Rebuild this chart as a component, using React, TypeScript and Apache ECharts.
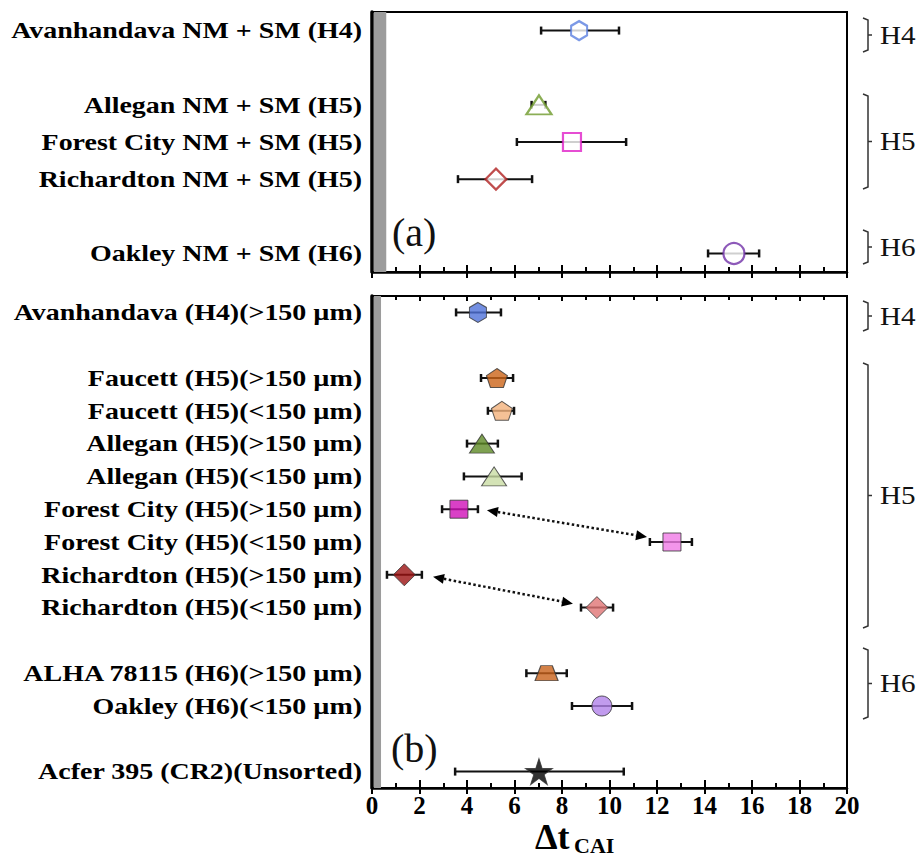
import React, { useEffect, useRef } from 'react';
import * as echarts from 'echarts';

// ---------- data ----------
const topLabels = [
  'Avanhandava NM + SM (H4)',
  '',
  'Allegan NM + SM (H5)',
  'Forest City NM + SM (H5)',
  'Richardton NM + SM (H5)',
  '',
  'Oakley NM + SM (H6)',
];
const topMean = [8.72, null, 7.03, 8.42, 5.22, null, 15.24];
const topLow = [7.12, null, 6.72, 6.1, 3.62, null, 14.15];
const topHigh = [10.4, null, 7.3, 10.7, 6.74, null, 16.3];

const bottomLabels = [
  'Avanhandava (H4)(>150 µm)',
  '',
  'Faucett (H5)(>150 µm)',
  'Faucett (H5)(<150 µm)',
  'Allegan (H5)(>150 µm)',
  'Allegan (H5)(<150 µm)',
  'Forest City (H5)(>150 µm)',
  'Forest City (H5)(<150 µm)',
  'Richardton (H5)(>150 µm)',
  'Richardton (H5)(<150 µm)',
  '',
  'ALHA 78115 (H6)(>150 µm)',
  'Oakley (H6)(<150 µm)',
  '',
  'Acfer 395 (CR2)(Unsorted)',
];
const bottomMean = [4.46, null, 5.26, 5.47, 4.63, 5.14, 3.66, 12.63, 1.36, 9.47, null, 7.35, 9.68, null, 7.03];
const bottomLow = [3.54, null, 4.59, 4.88, 4.0, 3.87, 2.95, 11.7, 0.63, 8.8, null, 6.5, 8.42, null, 3.5];
const bottomHigh = [5.43, null, 5.94, 5.98, 5.3, 6.3, 4.46, 13.47, 2.1, 10.15, null, 8.2, 10.95, null, 10.6];

// dotted double arrows: [x1, row1, x2, row2, rowOffset1, rowOffset2]
const arrows = [
  [4.84, 6, 11.58, 7, 0.03, -0.15],
  [2.57, 8, 8.46, 9, 0.06, -0.12],
];

const xTicks = [0, 2, 4, 6, 8, 10, 12, 14, 16, 18, 20];
const grayBandTop = 0.6;
const grayBandBottom = 0.38;

// ---------- styles ----------
const FONT = 'Liberation Serif';
const HEX = 'path://M50,0 L93.3,25 L93.3,75 L50,100 L6.7,75 L6.7,25 Z';
const PENT = 'path://M50,0 L100,38 L81,100 L19,100 L0,38 Z';
const TRAP = 'path://M25,0 L75,0 L100,100 L0,100 Z';
const STAR = 'path://M50,0 L61.8,35.4 L100,35.4 L69.1,57.3 L80.9,92.7 L50,70.8 L19.1,92.7 L30.9,57.3 L0,35.4 L38.2,35.4 Z';

const topSymbols = [HEX, null, 'triangle', 'rect', 'diamond', null, 'circle'];
const topSizes: any[] = [[16, 19], null, [25, 19], [18, 18], [21, 21], null, [21, 21]];
const topColors = ['#5b7fe0', null, '#6e9a2a', '#e020c8', '#b02020', null, '#7030a8'];

const bottomSymbols = [HEX, null, PENT, PENT, 'triangle', 'triangle', 'rect', 'rect', 'diamond', 'diamond', null, TRAP, 'circle', null, STAR];
const bottomSizes: any[] = [[17, 20], null, [21, 19], [21, 19], [25, 19], [25, 19], [18, 18], [18, 18], [22, 22], [22, 22], null, [23, 15], [20, 20], null, [27, 26]];
const bottomColors = ['#4f72d9', null, '#cc6418', '#f2b27c', '#5e8a26', '#c9dca4', '#d010b8', '#f07ae6', '#9b1111', '#e07474', null, '#c8621a', '#b282ea', null, '#000000'];

function errorBarRender(params: any, api: any) {
  const lo = api.coord([api.value(0), api.value(2)]);
  const hi = api.coord([api.value(1), api.value(2)]);
  const cap = 4;
  const style = { stroke: '#111', lineWidth: 2 };
  const capStyle = { stroke: '#111', lineWidth: 2.5 };
  return {
    type: 'group',
    children: [
      { type: 'line', shape: { x1: lo[0], y1: lo[1], x2: hi[0], y2: hi[1] }, style },
      { type: 'line', shape: { x1: lo[0], y1: lo[1] - cap, x2: lo[0], y2: lo[1] + cap }, style: capStyle },
      { type: 'line', shape: { x1: hi[0], y1: hi[1] - cap, x2: hi[0], y2: hi[1] + cap }, style: capStyle },
    ],
  };
}

function arrowRender(params: any, api: any) {
  const band = Math.abs(api.size([0, 1])[1]);
  const a = api.coord([api.value(0), api.value(1)]);
  const b = api.coord([api.value(2), api.value(3)]);
  const ax = a[0];
  const ay = a[1] + api.value(4) * band;
  const bx = b[0];
  const by = b[1] + api.value(5) * band;
  const dx = bx - ax;
  const dy = by - ay;
  const len = Math.sqrt(dx * dx + dy * dy);
  const ux = dx / len;
  const uy = dy / len;
  const nx = -uy;
  const ny = ux;
  const L = 11;
  const W = 5;
  const headA = [
    [ax, ay],
    [ax + ux * L + nx * W, ay + uy * L + ny * W],
    [ax + ux * L - nx * W, ay + uy * L - ny * W],
  ];
  const headB = [
    [bx, by],
    [bx - ux * L + nx * W, by - uy * L + ny * W],
    [bx - ux * L - nx * W, by - uy * L - ny * W],
  ];
  return {
    type: 'group',
    children: [
      {
        type: 'line',
        shape: { x1: ax + ux * L, y1: ay + uy * L, x2: bx - ux * L, y2: by - uy * L },
        style: { stroke: '#111', lineWidth: 2.5, lineDash: [2.5, 2.5] },
      },
      { type: 'polygon', shape: { points: headA }, style: { fill: '#000' } },
      { type: 'polygon', shape: { points: headB }, style: { fill: '#000' } },
    ],
  };
}

function buildScatter(mean: any[], symbols: any[], sizes: any[], colors: any[], hollow: boolean) {
  const out: any[] = [];
  mean.forEach((m, i) => {
    if (m == null) return;
    out.push({
      value: [m, i],
      symbol: symbols[i],
      symbolSize: sizes[i],
      itemStyle: hollow
        ? { color: '#ffffff', borderColor: colors[i], borderWidth: 2.2 }
        : { color: colors[i], borderColor: '#333', borderWidth: 1 },
    });
  });
  return out;
}

function buildErr(mean: any[], low: any[], high: any[]) {
  const out: any[] = [];
  mean.forEach((m, i) => {
    if (m == null) return;
    out.push([low[i], high[i], i]);
  });
  return out;
}

function bracket(x: number, y1: number, y2: number, label: string) {
  const ym = (y1 + y2) / 2;
  const st = { stroke: '#333', lineWidth: 1.5, fill: null };
  return [
    {
      type: 'polyline',
      shape: { points: [[x - 5, y1], [x, y1 + 2], [x, y2 - 2], [x - 5, y2]] },
      style: st,
    },
    { type: 'line', shape: { x1: x, y1: ym, x2: x + 4, y2: ym }, style: { stroke: '#333', lineWidth: 1.5 } },
    {
      type: 'text',
      x: x + 12,
      y: ym,
      scaleX: 1.12,
      style: { text: label, fontSize: 26, fontFamily: FONT, fill: '#111', verticalAlign: 'middle' },
    },
  ];
}

export default function App() {
  const ref = useRef<HTMLDivElement>(null);
  useEffect(() => {
    if (!ref.current) return;
    const chart = echarts.init(ref.current, null, { renderer: 'svg' });
    const xBase = {
      type: 'value',
      min: 0,
      max: 20,
      interval: 2,
      splitLine: { show: false },
    };
    const tickStyle = { color: '#000', width: 2 };
    const insideAxis = (grid: number, position: string, showLine: boolean, tickLen: number, minorLen: number) => ({
      ...xBase,
      gridIndex: grid,
      position,
      axisLine: { show: showLine, onZero: false, lineStyle: { color: '#000', width: 2.5 } },
      axisTick: { show: true, inside: true, length: tickLen, lineStyle: tickStyle },
      minorTick: { show: true, splitNumber: 2, length: minorLen, lineStyle: tickStyle },
      axisLabel: { show: false },
    });
    const outsideAxis = (grid: number, showLabels: boolean) => ({
      ...xBase,
      gridIndex: grid,
      position: 'bottom',
      axisLine: { show: false, onZero: false },
      axisTick: { show: true, inside: false, length: 6, lineStyle: tickStyle },
      minorTick: { show: false },
      axisLabel: showLabels
        ? {
            show: true,
            margin: 5,
            fontSize: 25,
            fontWeight: 'bold',
            fontFamily: FONT,
            color: '#000',
            formatter: (v: number) => (xTicks.indexOf(v) >= 0 ? String(v) : ''),
          }
        : { show: false },
    });
    const yBase = (grid: number, data: string[]) => ({
      type: 'category',
      gridIndex: grid,
      data,
      inverse: true,
      axisLine: { show: true, lineStyle: { color: '#000', width: 3.5 } },
      axisTick: { show: false },
      splitLine: { show: false },
      axisLabel: { show: false },
    });

    const gridCommon = {
      left: 372,
      width: 475,
      show: true,
      borderColor: '#000',
      borderWidth: 2,
      containLabel: false,
      outerBoundsMode: 'none',
    };

    const option: any = {
      animation: false,
      backgroundColor: '#ffffff',
      textStyle: { fontFamily: FONT },
      grid: [
        { ...gridCommon, top: 12, height: 260 },
        { ...gridCommon, top: 296, height: 492 },
      ],
      xAxis: [
        insideAxis(0, 'bottom', true, 7, 5),
        outsideAxis(0, false),
        insideAxis(1, 'bottom', true, 8, 5),
        outsideAxis(1, true),
        insideAxis(1, 'top', false, 5, 4),
      ],
      yAxis: [yBase(0, topLabels), yBase(1, bottomLabels)],
      series: [
        {
          type: 'custom',
          xAxisIndex: 0,
          yAxisIndex: 0,
          z: 2,
          encode: { x: [0, 1], y: 2 },
          renderItem: errorBarRender,
          data: buildErr(topMean, topLow, topHigh),
        },
        {
          type: 'scatter',
          xAxisIndex: 0,
          yAxisIndex: 0,
          z: 3,
          data: buildScatter(topMean, topSymbols, topSizes, topColors, true),
          markArea: {
            silent: true,
            itemStyle: { color: '#9c9c9c' },
            data: [[{ xAxis: 0.08 }, { xAxis: grayBandTop }]],
          },
        },
        {
          type: 'custom',
          xAxisIndex: 2,
          yAxisIndex: 1,
          z: 2,
          encode: { x: [0, 1], y: 2 },
          renderItem: errorBarRender,
          data: buildErr(bottomMean, bottomLow, bottomHigh),
        },
        {
          type: 'custom',
          xAxisIndex: 2,
          yAxisIndex: 1,
          z: 2,
          encode: { x: [0, 2], y: [1, 3] },
          renderItem: arrowRender,
          data: arrows,
        },
        {
          type: 'scatter',
          xAxisIndex: 2,
          yAxisIndex: 1,
          z: 3,
          data: buildScatter(bottomMean, bottomSymbols, bottomSizes, bottomColors, false),
          markArea: {
            silent: true,
            itemStyle: { color: '#9c9c9c' },
            data: [[{ xAxis: 0.08 }, { xAxis: grayBandBottom }]],
          },
        },
      ],
    };
    chart.setOption(option);

    // category labels, placed through the category axes' own scales
    const labelEls: any[] = [];
    const addLabels = (labels: string[], finder: any) => {
      labels.forEach((t, i) => {
        if (!t) return;
        const p = chart.convertToPixel(finder, [0, i]) as number[];
        labelEls.push({
          type: 'text',
          x: p[0] - 10,
          y: p[1],
          scaleX: 1.19,
          style: {
            text: t,
            fontSize: 23.5,
            fontWeight: 'bold',
            fontFamily: FONT,
            fill: '#000',
            align: 'right',
            verticalAlign: 'middle',
          },
        });
      });
    };
    addLabels(topLabels, { xAxisIndex: 0, yAxisIndex: 0 });
    addLabels(bottomLabels, { xAxisIndex: 2, yAxisIndex: 1 });

    chart.setOption({
      graphic: [
        ...labelEls,
        ...bracket(868, 18, 52, 'H4'),
        ...bracket(868, 94, 189, 'H5'),
        ...bracket(868, 230, 264, 'H6'),
        ...bracket(868, 301, 331, 'H4'),
        ...bracket(868, 363, 628, 'H5'),
        ...bracket(868, 648, 719, 'H6'),
        {
          type: 'text',
          x: 392,
          y: 232,
          style: { text: '(a)', fontSize: 40, fontFamily: FONT, fill: '#111', verticalAlign: 'middle' },
        },
        {
          type: 'text',
          x: 391,
          y: 748,
          style: { text: '(b)', fontSize: 40, fontFamily: FONT, fill: '#111', verticalAlign: 'middle' },
        },
        {
          type: 'text',
          x: 535,
          y: 837,
          style: { text: 'Δt', fontSize: 36, fontWeight: 'bold', fontFamily: FONT, fill: '#000', verticalAlign: 'middle' },
        },
        {
          type: 'text',
          x: 574,
          y: 845,
          style: { text: 'CAI', fontSize: 22, fontWeight: 'bold', fontFamily: FONT, fill: '#000', verticalAlign: 'middle' },
        },
      ],
    });
    return () => chart.dispose();
  }, []);
  return (
    <div
      ref={ref}
      style={{ position: 'fixed', left: 0, top: 0, width: 921, height: 859, background: '#fff' }}
    />
  );
}
